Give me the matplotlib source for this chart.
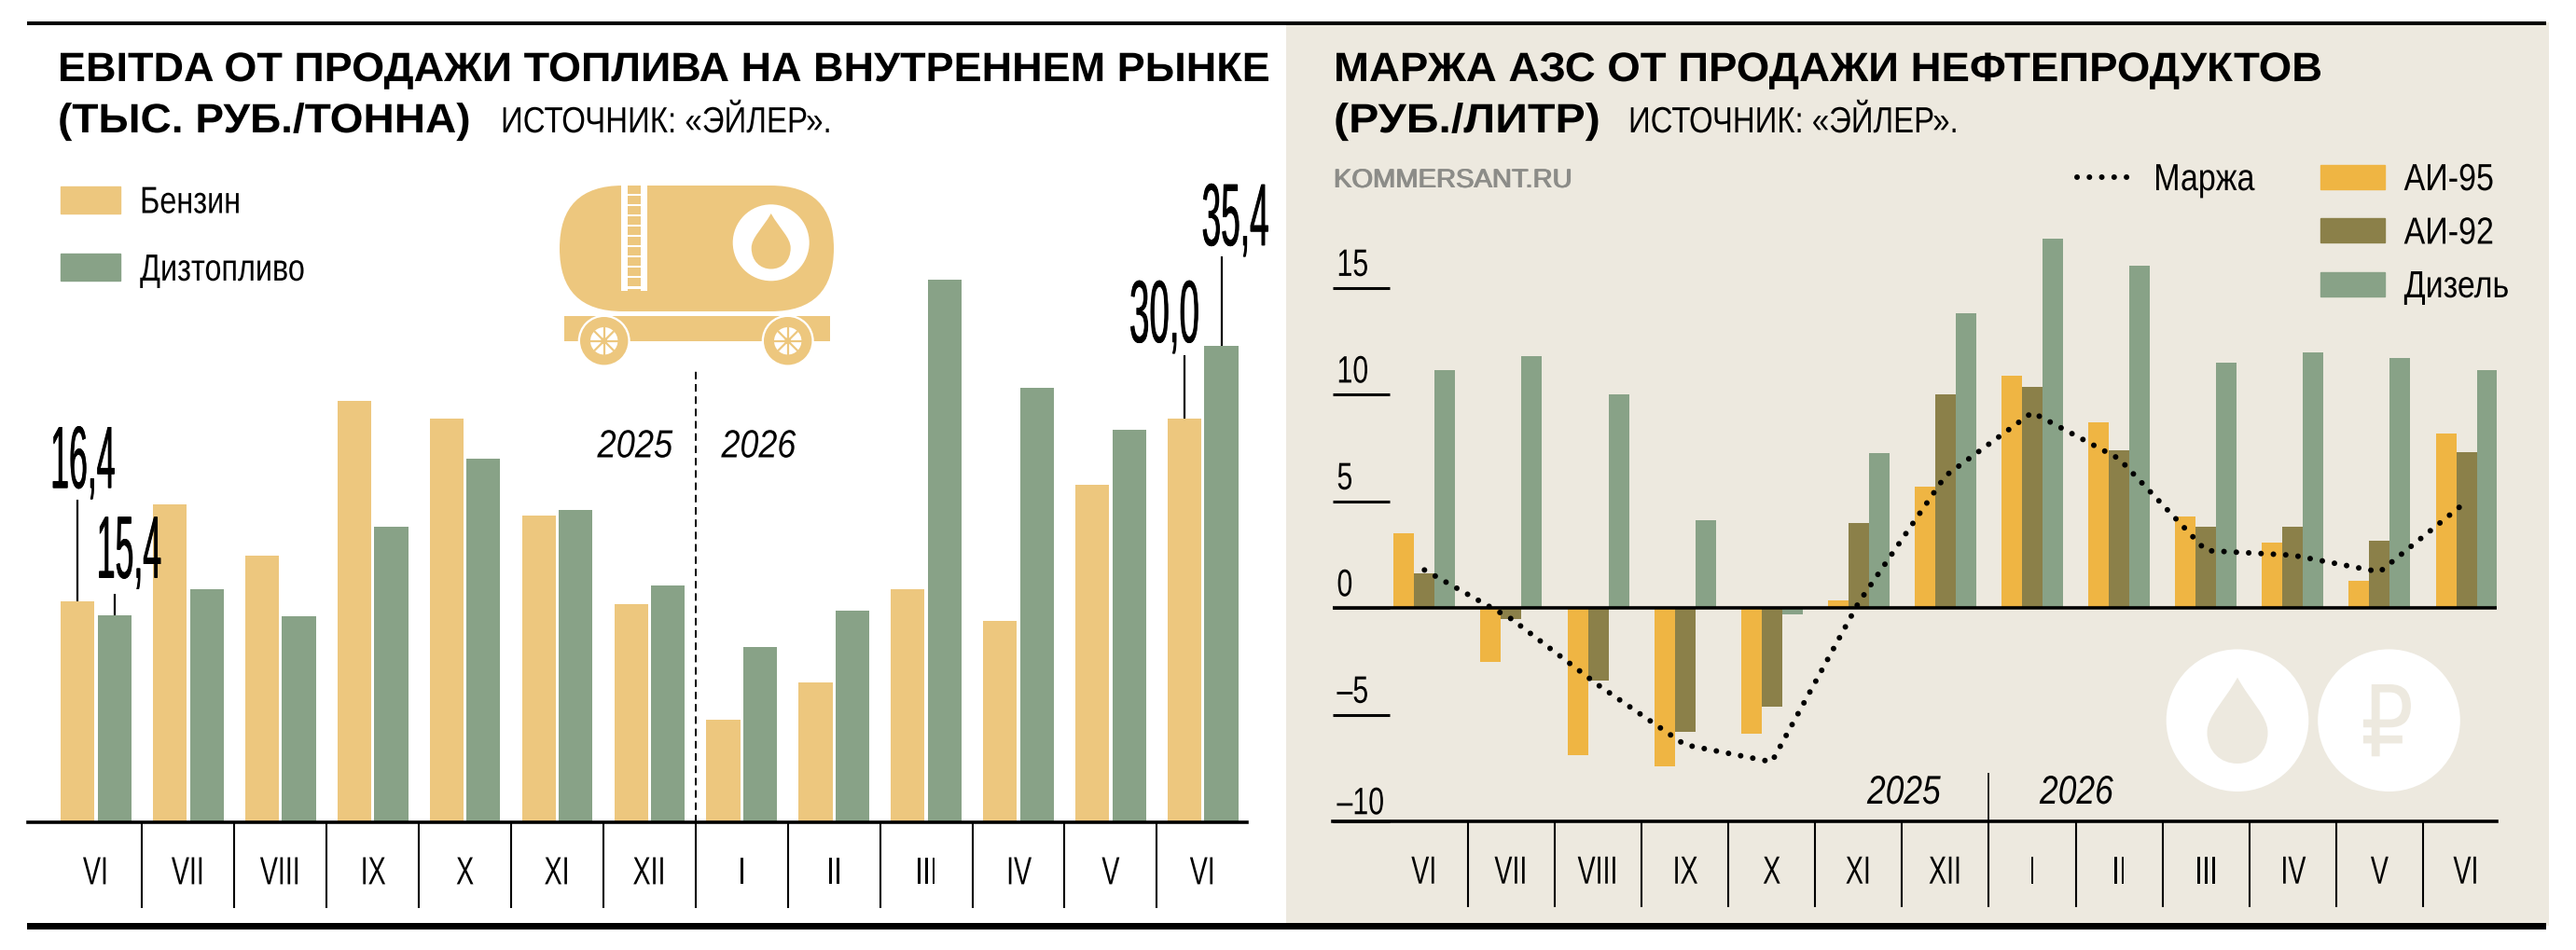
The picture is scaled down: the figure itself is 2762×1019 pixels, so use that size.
import numpy as np
import matplotlib
matplotlib.use("Agg")
import matplotlib.pyplot as plt
from matplotlib.patches import Rectangle, Circle, FancyBboxPatch, PathPatch, Patch
from matplotlib.path import Path
from matplotlib.lines import Line2D
from matplotlib.patheffects import AbstractPathEffect
from matplotlib.transforms import Affine2D, ScaledTranslation, Bbox
from matplotlib.textpath import TextPath
from matplotlib.font_manager import FontProperties

# ---------- data ----------
months = ["VI","VII","VIII","IX","X","XI","XII","I","II","III","IV","V","VI"]
petrol = [16.4,23.6,19.8,31.3,30.0,22.8,16.2,7.6,10.4,17.3,15.0,25.1,30.0]
diesel = [15.4,17.3,15.3,22.0,27.0,23.2,17.6,13.0,15.7,40.3,32.3,29.2,35.4]
ai95 = [3.53,-2.5,-6.9,-7.4,-5.9,0.36,5.7,10.9,8.7,4.3,3.07,1.28,8.2]
ai92 = [1.64,-0.5,-3.4,-5.8,-4.6,3.97,10.0,10.35,7.4,3.8,3.8,3.18,7.3]
dsl  = [11.15,11.8,10.0,4.14,-0.3,7.25,13.8,17.3,16.06,11.5,12.0,11.7,11.15]
margin = [1.79,-0.5,-3.6,-6.4,-7.2,0.26,6.2,9.17,7.0,2.7,2.48,1.7,5.0]
yticks_r = [-10,-5,0,5,10,15]
ylabels_r = ["–10","–5","0","5","10","15"]

TAN, GREEN, ORANGE, OLIVE, BEIGE = "#EDC77E", "#88A287", "#EFB543", "#8B8049", "#EDE9DF"
FF = "Liberation Sans"
W, H = 2762, 1020
PT = 0.72  # points per pixel at dpi 100

class Squeeze(AbstractPathEffect):
    """Draws the text condensed horizontally (the source uses a condensed face)."""
    center = False
    def __init__(self, sx, bold=0.0):
        super().__init__()
        self.sx, self.bold = sx, bold
    def draw_path(self, renderer, gc, tpath, affine, rgbFace=None):
        e = tpath.get_extents()
        c = (e.x0 + e.x1) / 2 if self.center else 0.0
        aff = Affine2D().translate(-c, 0).scale(self.sx, 1).translate(c, 0) + affine
        offs = [0.0] if not self.bold else [-self.bold / 2, self.bold / 2, 0.0]
        for d in offs:
            renderer.draw_path(gc, tpath, aff + Affine2D().translate(d, 0), rgbFace)

class SqueezeC(Squeeze):
    center = True

def squeeze_left(t, sx, bold=0.0):
    """Apply the effect and report the condensed extent, not the natural one."""
    t.set_path_effects([Squeeze(sx, bold)])
    orig = t.get_window_extent
    def extent(renderer=None, dpi=None):
        b = orig(renderer, dpi)
        return Bbox.from_extents(b.x0, b.y0, b.x0 + b.width * sx, b.y1)
    t.get_window_extent = extent

fig = plt.figure(figsize=(W / 100, H / 100), dpi=100, facecolor="white")

def axes_px(x0, x1, ytop, ybot, **kw):
    return fig.add_axes([x0 / W, 1 - ybot / H, (x1 - x0) / W, (ybot - ytop) / H], **kw)

ov = fig.add_axes([0, 0, 1, 1], zorder=0)
ov.set_xlim(0, W); ov.set_ylim(H, 0); ov.axis("off")

def T(x, y, s, px, w=None, sx=None, weight="normal", style="normal", color="black",
      family=FF, bold=0.0, ax=None):
    fp = FontProperties(family=family, weight=weight, style=style)
    if w is not None:
        sx = w / TextPath((0, 0), s, size=px, prop=fp).get_extents().width
    t = (ax or ov).text(x, y, s, fontsize=px * PT, family=family,
                        weight=weight, style=style, color=color, ha="left", va="baseline")
    squeeze_left(t, sx, bold)
    return t

# background and rules
ov.add_patch(Rectangle((1379, 25), 2733 - 1379, 969, fc=BEIGE, ec="none"))
ov.add_patch(Rectangle((29, 24), 2730 - 29, 3.7, fc="black", ec="none"))
ov.add_patch(Rectangle((29, 991), 2730 - 29, 6.7, fc="black", ec="none"))

# titles
T(62, 88, "EBITDA ОТ ПРОДАЖИ ТОПЛИВА НА ВНУТРЕННЕМ РЫНКЕ", 44, w=1295, weight="bold")
T(62, 143, "(ТЫС. РУБ./ТОННА)", 44, w=438, weight="bold")
T(537, 143, "ИСТОЧНИК: «ЭЙЛЕР».", 39, w=349)
T(1430, 88, "МАРЖА АЗС ОТ ПРОДАЖИ НЕФТЕПРОДУКТОВ", 44, w=1055, weight="bold")
T(1430, 143, "(РУБ./ЛИТР)", 44, w=281, weight="bold")
T(1746, 143, "ИСТОЧНИК: «ЭЙЛЕР».", 39, w=348)
T(1430, 202, "KOMMERSANT.RU", 28.5, w=251, color="#8C8C88", bold=1.4)

# year marks
T(640.5, 491.5, "2025", 42, w=81, style="italic")
T(773.5, 491.5, "2026", 42, w=80, style="italic")
T(2002, 863, "2025", 43, w=79, style="italic")
T(2187, 863, "2026", 43, w=79, style="italic")

# ---------- tank car icon ----------
ov.add_patch(FancyBboxPatch((667.5, 267.5), 159, 0, boxstyle="round,pad=67.5,rounding_size=67.5",
                            fc=TAN, ec="none"))
for xr in (666, 687):
    ov.add_patch(Rectangle((xr, 200), 6.7, 113, fc="white", ec="none"))
for yr in np.arange(208.5, 310, 11.1):
    ov.add_patch(Rectangle((666, yr), 27, 2.2, fc="white", ec="none"))
ov.add_patch(Circle((826.7, 261.3), 41, fc="white", ec="none"))

def drop(cx, top, bot, hw, cy, fc):
    verts = [(cx, top),
             (cx + hw * .45, top + (cy - top) * .45), (cx + hw, cy - (cy - top) * .30), (cx + hw, cy),
             (cx + hw, cy + (bot - cy) * .62), (cx + hw * .55, bot), (cx, bot),
             (cx - hw * .55, bot), (cx - hw, cy + (bot - cy) * .62), (cx - hw, cy),
             (cx - hw, cy - (cy - top) * .30), (cx - hw * .45, top + (cy - top) * .45), (cx, top)]
    codes = [Path.MOVETO] + [Path.CURVE4] * 12
    ov.add_patch(PathPatch(Path(verts, codes), fc=fc, ec="none"))

drop(826.7, 230, 289.5, 21, 267, TAN)
ov.add_patch(Rectangle((605, 340), 285, 26.7, fc=TAN, ec="none"))
for wx in (647.7, 844.7):
    ov.add_patch(Circle((wx, 366.7), 28, fc="white", ec="none"))
    ov.add_patch(Circle((wx, 366.7), 25.7, fc=TAN, ec="none"))
    ov.add_patch(Circle((wx, 366.7), 14.7, fc="white", ec="none"))
    for a in np.arange(0, 180, 45):
        dx, dy = 15 * np.cos(np.radians(a)), 15 * np.sin(np.radians(a))
        ov.plot([wx - dx, wx + dx], [366.7 - dy, 366.7 + dy], color=TAN, lw=1.6, solid_capstyle="butt")
    ov.add_patch(Circle((wx, 366.7), 3.5, fc=TAN, ec="none"))

# ---------- right icons ----------
ov.add_patch(Circle((2399, 773.7), 76.3, fc="white", ec="none"))
ov.add_patch(Circle((2561.5, 773.7), 76.3, fc="white", ec="none"))
drop(2399, 727.7, 820, 32.5, 786.7, BEIGE)
T(2531, 812.3, "₽", 106, w=51, color=BEIGE, family="DejaVu Sans")

# ---------- left chart ----------
SX_TICK = 0.68
def style_months(ax, ticklen_px=92):
    ax.set_xticks(range(len(months)), months)
    ax.set_xticks(np.arange(0.5, len(months) - 1), minor=True)
    ax.tick_params(axis="x", which="major", length=0, pad=25.5)
    ax.tick_params(axis="x", which="minor", length=ticklen_px * PT, width=1.5, color="black")
    for lab in ax.get_xticklabels():
        lab.set_family(FF); lab.set_fontsize(42 * PT)
        lab.set_path_effects([SqueezeC(SX_TICK)])
    for s in ("top", "left", "right"):
        ax.spines[s].set_visible(False)
    ax.patch.set_alpha(0)

L0, LS = 103.0, 98.9
LU = 14.43
a1 = axes_px(30, 1337, 25, 883, zorder=2)
a1.set_xlim((30 - L0) / LS, (1337 - L0) / LS)
a1.set_ylim(0, (883 - 25) / LU)
x1 = np.arange(len(months))
a1.bar(x1 - 0.2, petrol, 0.366, color=TAN, zorder=2)
a1.bar(x1 + 0.2, diesel, 0.366, color=GREEN, zorder=2)
style_months(a1)
a1.set_yticks([])
a1.spines["bottom"].set_linewidth(3.6 * PT)
a1.vlines(6.5, 0, (883 - 397) / LU, color="black", lw=2 * PT, linestyles=(0, (4, 2.6)), zorder=3)

def callout(x, val, leader_px, text, dx, dy, sx):
    top = val + leader_px / LU
    a1.vlines(x, val, top, color="black", lw=2.2 * PT, zorder=4)
    t = a1.annotate(text, xy=(x, top), xytext=(dx, dy), textcoords="offset pixels",
                    fontsize=95 * PT, family=FF, ha="left", va="baseline", zorder=5)
    squeeze_left(t, sx, 0.8)

callout(0 - 0.2, petrol[0], 109, "16,4", -29, 13, 0.375)
callout(0 + 0.2, diesel[0], 23, "15,4", -19, 17, 0.375)
callout(12 - 0.2, petrol[12], 68, "30,0", -59, 14, 0.405)
callout(12 + 0.2, diesel[12], 96, "35,4", -21, 12, 0.39)

leg = a1.legend(handles=[Patch(color=TAN), Patch(color=GREEN)], labels=["Бензин", "Дизтопливо"],
                loc="upper left", bbox_to_anchor=(65, 199.5), bbox_transform=ov.transData,
                frameon=False, borderpad=0, borderaxespad=0,
                handlelength=1.57, handleheight=0.74, handletextpad=0.53, labelspacing=0.85,
                prop=dict(family=FF, size=40.5 * PT))
for t in leg.get_texts():
    squeeze_left(t, 0.80)

# ---------- right chart ----------
R0, RS = 1527.3, 93.1
RU = 22.93
RZ = 654.3
a2 = axes_px(1428.6, 2677, 25, 882.3, zorder=2)
a2.set_xlim((1428.6 - R0) / RS, (2677 - R0) / RS)
a2.set_ylim((RZ - 882.3) / RU, (RZ - 25) / RU)
x2 = np.arange(len(months))
BW = 22 / RS
a2.bar(x2 - BW, ai95, BW, color=ORANGE, zorder=2)
a2.bar(x2, ai92, BW, color=OLIVE, zorder=2)
a2.bar(x2 + BW, dsl, BW, color=GREEN, zorder=2)
a2.axhline(0, color="black", lw=3.6 * PT, zorder=3)
dot_style = dict(color="black", lw=6 * PT, linestyle=(0, (0.01, 2.2)), dash_capstyle="round")
a2.plot(x2, margin, zorder=4, **dot_style)
style_months(a2)
a2.spines["bottom"].set_linewidth(3.6 * PT)
a2.vlines(6.5, a2.get_ylim()[0], (RZ - 831) / RU, color="black", lw=1.6 * PT, zorder=3)
a2.set_yticks(yticks_r, ylabels_r)
a2.tick_params(axis="y", direction="in", length=61 * PT, width=2.2, pad=-3.5)
for lab, v in zip(a2.get_yticklabels(), yticks_r):
    lab.set_ha("left"); lab.set_va("bottom")
    lab.set_family(FF); lab.set_fontsize(41 * PT)
    squeeze_left(lab, 0.74)
    up = 0 if v == -10 else 5
    lab.set_transform(lab.get_transform() + ScaledTranslation(0, up / 100, fig.dpi_scale_trans))

leg2 = a2.legend(handles=[Patch(color=ORANGE), Patch(color=OLIVE), Patch(color=GREEN)],
                 labels=["АИ-95", "АИ-92", "Дизель"],
                 loc="upper left", bbox_to_anchor=(2488.5, 175), bbox_transform=ov.transData,
                 frameon=False, borderpad=0, borderaxespad=0,
                 handlelength=1.68, handleheight=0.62, handletextpad=0.52, labelspacing=0.48,
                 prop=dict(family=FF, size=40.5 * PT))
for t in leg2.get_texts():
    squeeze_left(t, 0.84)
a2.add_artist(leg2)
leg3 = a2.legend(handles=[Line2D([], [], **dot_style)], labels=["Маржа"],
                 loc="upper left", bbox_to_anchor=(2227, 175), bbox_transform=ov.transData,
                 frameon=False, borderpad=0, borderaxespad=0,
                 handlelength=1.41, handletextpad=0.62,
                 prop=dict(family=FF, size=40.5 * PT))
for t in leg3.get_texts():
    squeeze_left(t, 0.84)

fig.savefig("out.png", dpi=100, facecolor="white")
